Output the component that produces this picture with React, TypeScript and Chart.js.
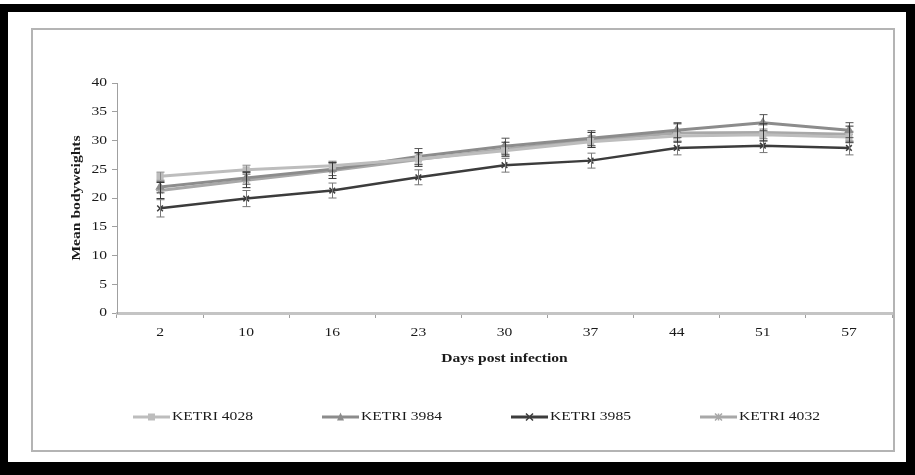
import React, { useEffect, useRef } from "react";
import { Chart, registerables } from "chart.js";

Chart.register(...registerables);

const days = ["2", "10", "16", "23", "30", "37", "44", "51", "57"];
const yTicks = [0, 5, 10, 15, 20, 25, 30, 35, 40];
const seriesNames = ["KETRI 4028", "KETRI 3984", "KETRI 3985", "KETRI 4032"];
const ketri4028 = [23.8, 24.9, 25.6, 26.8, 28.2, 29.8, 30.8, 31.0, 30.6];
const ketri3984 = [21.9, 23.5, 25.0, 27.2, 29.0, 30.4, 31.8, 33.1, 31.8];
const ketri3985 = [18.2, 19.9, 21.3, 23.6, 25.7, 26.5, 28.7, 29.1, 28.7];
const ketri4032 = [21.3, 23.1, 24.8, 26.7, 28.5, 30.1, 31.3, 31.4, 31.1];
const err4028 = [0.7, 0.8, 0.8, 0.9, 1.0, 1.0, 1.0, 1.0, 1.0];
const err3984 = [1.0, 1.1, 1.1, 1.4, 1.4, 1.3, 1.3, 1.4, 1.3];
const err3985 = [1.5, 1.4, 1.3, 1.3, 1.2, 1.3, 1.2, 1.2, 1.2];
const err4032 = [1.4, 1.3, 1.4, 1.2, 1.2, 1.3, 1.6, 1.5, 1.4];

const colors = ["#BDBDBD", "#8C8C8C", "#3C3C3C", "#A8A8A8"];
const errColors = ["#8A8A8A", "#555555", "#777777", "#333333"];
const pointStyles = ["rect", "triangle", "crossRot", "star"];
const values = [ketri4028, ketri3984, ketri3985, ketri4032];
const errors = [err4028, err3984, err3985, err4032];

const SX = 1.2;
function sText(ctx, text, x, y, align, font, rot = 0) {
  ctx.save();
  ctx.translate(x, y);
  if (rot) ctx.rotate(rot);
  ctx.scale(SX, 1);
  ctx.font = font;
  ctx.fillStyle = "#1a1a1a";
  ctx.textAlign = align;
  ctx.textBaseline = "middle";
  ctx.fillText(text, 0, 0);
  ctx.restore();
}

const errorBarPlugin = {
  id: "errorBars",
  afterDatasetsDraw(chart) {
    const ctx = chart.ctx;
    const ys = chart.scales.y;
    chart.data.datasets.forEach((ds, i) => {
      const meta = chart.getDatasetMeta(i);
      ctx.save();
      ctx.strokeStyle = errColors[i];
      ctx.lineWidth = 1;
      meta.data.forEach((pt, j) => {
        const v = ds.data[j];
        const e = errors[i][j];
        const x = Math.round(pt.x) + 0.5;
        const yt = ys.getPixelForValue(v + e);
        const yb = ys.getPixelForValue(v - e);
        ctx.beginPath();
        ctx.moveTo(x, yt);
        ctx.lineTo(x, yb);
        ctx.moveTo(x - 4, yt);
        ctx.lineTo(x + 4, yt);
        ctx.moveTo(x - 4, yb);
        ctx.lineTo(x + 4, yb);
        ctx.stroke();
      });
      ctx.restore();
    });
  },
};

const textPlugin = {
  id: "texts",
  afterDraw(chart) {
    const ctx = chart.ctx;
    const xs = chart.scales.x;
    const ys = chart.scales.y;
    const ca = chart.chartArea;
    const tickFont = "13px 'Liberation Serif'";
    const boldFont = "bold 13px 'Liberation Serif'";
    ys.ticks.forEach((t) => {
      sText(ctx, String(t.value), ca.left - 10, ys.getPixelForValue(t.value), "right", tickFont);
    });
    xs.ticks.forEach((t, i) => {
      sText(ctx, String(xs.getLabelForValue(t.value)), xs.getPixelForTick(i), ca.bottom + 20, "center", tickFont);
    });
    sText(ctx, "Days post infection", (ca.left + ca.right) / 2, ca.bottom + 46, "center", boldFont);
    sText(ctx, "Mean bodyweights", ca.left - 40, 198, "center", boldFont, -Math.PI / 2);

    // legend
    const starts = [133, 322, 511, 700];
    const ly = 417;
    chart.data.datasets.forEach((ds, i) => {
      const x0 = starts[i];
      ctx.save();
      ctx.strokeStyle = colors[i];
      ctx.lineWidth = 3;
      ctx.beginPath();
      ctx.moveTo(x0, ly);
      ctx.lineTo(x0 + 37, ly);
      ctx.stroke();
      ctx.restore();
      ctx.save();
      ctx.lineWidth = 1;
      // marker
      (Chart as any).helpers
        ? null
        : null;
      ctx.restore();
      drawMarker(ctx, pointStyles[i], x0 + 18.5, ly, colors[i]);
      sText(ctx, ds.label, x0 + 39, ly, "left", tickFont);
    });
  },
};

function drawMarker(ctx, style, x, y, color) {
  ctx.save();
  ctx.fillStyle = color;
  ctx.strokeStyle = color;
  ctx.lineWidth = 1.5;
  const r = 3.5;
  ctx.beginPath();
  if (style === "rect") {
    ctx.fillRect(x - r, y - r, 2 * r, 2 * r);
  } else if (style === "triangle") {
    ctx.moveTo(x, y - r - 1);
    ctx.lineTo(x + r, y + r);
    ctx.lineTo(x - r, y + r);
    ctx.closePath();
    ctx.fill();
  } else if (style === "crossRot") {
    ctx.moveTo(x - r, y - r);
    ctx.lineTo(x + r, y + r);
    ctx.moveTo(x + r, y - r);
    ctx.lineTo(x - r, y + r);
    ctx.stroke();
  } else {
    ctx.moveTo(x - r, y - r);
    ctx.lineTo(x + r, y + r);
    ctx.moveTo(x + r, y - r);
    ctx.lineTo(x - r, y + r);
    ctx.moveTo(x, y - r);
    ctx.lineTo(x, y + r);
    ctx.stroke();
  }
  ctx.restore();
}

export default function App() {
  const ref = useRef<HTMLCanvasElement | null>(null);
  useEffect(() => {
    const chart = new Chart(ref.current, {
      type: "line",
      data: {
        labels: days,
        datasets: values.map((v, i) => ({
          label: seriesNames[i],
          data: v,
          borderColor: colors[i],
          backgroundColor: colors[i],
          borderWidth: i === 2 ? 2.5 : 3,
          pointStyle: pointStyles[i],
          pointRadius: 4,
          pointBorderWidth: 1.5,
          pointBorderColor: colors[i],
          pointBackgroundColor: colors[i],
          tension: 0,
        })),
      },
      options: {
        animation: false,
        responsive: false,
        maintainAspectRatio: false,
        layout: { padding: { left: 0, top: 83, right: 23, bottom: 0 } },
        plugins: { legend: { display: false }, tooltip: { enabled: false } },
        scales: {
          x: {
            type: "category",
            offset: true,
            grid: { display: true, drawOnChartArea: false, drawTicks: true, tickLength: 5, color: "#A0A0A0", offset: true },
            border: { display: true, color: "#C4C4C4", width: 3 },
            ticks: { display: false },
            afterFit: (s) => {
              s.height = 162;
            },
          },
          y: {
            min: 0,
            max: 40,
            afterBuildTicks: (s) => {
              s.ticks = yTicks.map((v) => ({ value: v }));
            },
            grid: { display: true, drawOnChartArea: false, drawTicks: true, tickLength: 5, color: "#A0A0A0" },
            border: { display: true, color: "#A0A0A0", width: 1 },
            ticks: { display: false },
            afterFit: (s) => {
              s.width = 117;
            },
          },
        },
      },
      plugins: [errorBarPlugin, textPlugin],
    });
    return () => chart.destroy();
  }, []);

  return (
    <div style={{ position: "fixed", left: 0, top: 0, width: 915, height: 475, background: "#fff", overflow: "hidden" }}>
      <div style={{ position: "absolute", left: 0, top: 4, width: 915, height: 8, background: "#000" }} />
      <div style={{ position: "absolute", left: 0, top: 4, width: 8, height: 471, background: "#000" }} />
      <div style={{ position: "absolute", left: 906, top: 4, width: 9, height: 471, background: "#000" }} />
      <div style={{ position: "absolute", left: 0, top: 462, width: 915, height: 13, background: "#000" }} />
      <div style={{ position: "absolute", left: 31, top: 28, width: 860, height: 420, border: "2px solid #B4B4B4" }} />
      <canvas ref={ref} width={915} height={475} style={{ position: "absolute", left: 0, top: 0, width: 915, height: 475 }} />
    </div>
  );
}
